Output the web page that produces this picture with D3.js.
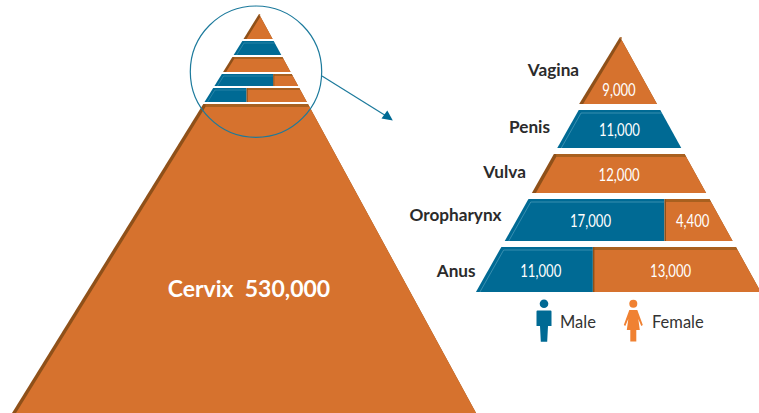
<!DOCTYPE html>
<html>
<head>
<meta charset="utf-8">
<script src="https://cdn.jsdelivr.net/npm/d3@7"></script>
<style>
  html, body { margin: 0; padding: 0; background: #fff; }
  svg { display: block; }
  text { font-family: Lato, "Open Sans", sans-serif; }
</style>
</head>
<body>
<div id="d3"></div>
<script>
// data
var sites = ["Vagina", "Penis", "Vulva", "Oropharynx", "Anus"];
var maleCases = [0, 11000, 0, 17000, 11000];
var femaleCases = [9000, 0, 12000, 4400, 13000];
var cervixLabel = "Cervix";
var cervixCases = 530000;
var legendLabels = ["Male", "Female"];

var colors = {
  male: "#006a94", maleLine: "#4f9dbb",
  female: "#d6722e", femaleTop: "#a9601f", femaleLeft: "#8f5019",
  ring: "#1c7a9c", text: "#2b2b2b", legendFemale: "#f08132"
};

var svg = d3.select("#d3").append("svg")
  .attr("width", 759)
  .attr("height", 413);

var fmt = d3.format(",");

// male share of cases -> share of the tier width
var splitShare = d3.scaleLinear().domain([0, 1]).range([0.015, 0.878]);

// tier boundaries (by tier index) for each of the two pyramids
var bigY = d3.scaleLinear().domain([0, 1, 2, 3, 4, 5]).range([37, 110, 154, 199, 247, 298]);
var smallY = d3.scaleLinear().domain([0, 1, 2, 3, 4, 5, 6]).range([14, 41, 57, 74, 88, 104, 425]);

function polygon(g, pts, fill) {
  return g.append("polygon")
    .attr("points", pts.map(function(p) { return p.join(","); }).join(" "))
    .attr("fill", fill);
}

// draw one segment of a tier; fromLeft/toRight say if it ends on a slanted edge or at the split
function drawSegment(g, t, sex, fromLeft, toRight, split) {
  var lx = function(y) { return t.apexX - t.slopeL * (y - t.apexY); };
  var rx = function(y) { return t.apexX + t.slopeR * (y - t.apexY); };
  var top = t.top, bottom = t.bottom, d = t.depth, inset = t.inset;
  var x0t = fromLeft ? lx(top) : split;
  var x0b = fromLeft ? lx(bottom) : split;
  var x1t = toRight ? rx(top) : split;
  var x1b = toRight ? rx(bottom) : split;
  var fy = top + d;
  var fx1t = toRight ? rx(fy) : split;
  var fx0t = fromLeft ? Math.min(lx(fy) + inset, fx1t) : split + inset * 0.4;
  var fx0b = fromLeft ? lx(bottom) + inset : split + inset * 0.4;

  if (sex === "male") {
    polygon(g, [[x0t, top], [x1t, top], [x1b, bottom], [x0b, bottom]], colors.male);
    g.append("polyline")
      .attr("points", [[fx0b, bottom], [fx0t, fy], [fx1t, fy]].map(function(p) { return p.join(","); }).join(" "))
      .attr("fill", "none")
      .attr("stroke", colors.maleLine)
      .attr("stroke-width", t.lineWidth);
  } else {
    polygon(g, [[x0t, top], [x1t, top], [x1b, bottom], [x0b, bottom]], colors.femaleLeft);
    if (d > 0) polygon(g, [[fx0t, top], [x1t, top], [fx1t, fy], [fx0t, fy]], colors.femaleTop);
    polygon(g, [[fx0t, fy], [fx1t, fy], [x1b, bottom], [fx0b, bottom]], colors.female);
  }
}

function drawTier(g, i, geo, y) {
  var t = {
    apexX: geo.apexX, apexY: geo.apexY, slopeR: geo.slopeR,
    slopeL: i === 0 ? geo.slopeL0 : geo.slopeL,
    depth: i === 0 ? 3 : geo.depth, inset: geo.inset, lineWidth: geo.lineWidth,
    top: y(i), bottom: y(i + 1) - geo.gap
  };
  var m = maleCases[i], f = femaleCases[i];
  var left = t.apexX - t.slopeL * (t.bottom - t.apexY);
  var right = t.apexX + t.slopeR * (t.bottom - t.apexY);
  var split = left + splitShare(m / (m + f)) * (right - left);
  t.split = split;
  if (m > 0 && f > 0) {
    drawSegment(g, t, "male", true, false, split);
    drawSegment(g, t, "female", false, true, split);
  } else {
    drawSegment(g, t, m > 0 ? "male" : "female", true, true, split);
  }
  return t;
}

// small pyramid with cervix underneath
var smallGeo = { apexX: 259, apexY: 14, slopeL: 0.619, slopeL0: 0.619, slopeR: 0.544, depth: 2, inset: 3, gap: 2, lineWidth: 0.5 };
var smallG = svg.append("g");
var cervix = {
  apexX: smallGeo.apexX, apexY: smallGeo.apexY, slopeL: smallGeo.slopeL, slopeR: smallGeo.slopeR,
  depth: 3, inset: 4, top: smallY(5), bottom: smallY(6)
};
drawSegment(smallG, cervix, "female", true, true, 0);
sites.forEach(function(s, i) { drawTier(smallG, i, smallGeo, smallY); });

svg.append("text")
  .attr("x", 249)
  .attr("y", 297)
  .attr("text-anchor", "middle")
  .attr("fill", "#fff")
  .attr("font-size", 23)
  .attr("font-weight", 700)
  .attr("xml:space", "preserve")
  .text(cervixLabel + "  " + fmt(cervixCases));

// ring and arrow
svg.append("circle")
  .attr("cx", 256)
  .attr("cy", 71.7)
  .attr("r", 65.7)
  .attr("fill", "none")
  .attr("stroke", colors.ring)
  .attr("stroke-width", 1.2);

svg.append("line")
  .attr("x1", 322).attr("y1", 76)
  .attr("x2", 387).attr("y2", 116.5)
  .attr("stroke", colors.ring)
  .attr("stroke-width", 1.2);

svg.append("polygon")
  .attr("points", "387.3,110.5 392.8,120.5 381.5,118.5")
  .attr("fill", colors.male);

// big pyramid
var bigGeo = { apexX: 620, apexY: 37, slopeL: 0.565, slopeL0: 0.61, slopeR: 0.552, depth: 3, inset: 4, gap: 6, lineWidth: 0.7 };
var bigG = svg.append("g");

var labelDx = [-20.5, -18, -17, -15, -13];
var labelDy = [5.5, 3.5, 4, 1, 7.5];

function valueWidth(s) { return s.replace(",", "").length * 7.6 + 3; }

function valueText(x, y, v) {
  var s = fmt(v);
  bigG.append("text")
    .attr("x", x)
    .attr("y", y)
    .attr("text-anchor", "middle")
    .attr("fill", "#fff")
    .attr("font-size", 18)
    .attr("textLength", valueWidth(s))
    .attr("lengthAdjust", "spacingAndGlyphs")
    .text(s);
}

sites.forEach(function(site, i) {
  var t = drawTier(bigG, i, bigGeo, bigY);
  var mid = (t.top + t.bottom) / 2;
  var lx = t.apexX - t.slopeL * (mid - t.apexY);
  var rx = t.apexX + t.slopeR * (mid - t.apexY);
  var m = maleCases[i], f = femaleCases[i];

  // site label
  bigG.append("text")
    .attr("x", lx + labelDx[i])
    .attr("y", mid + labelDy[i])
    .attr("text-anchor", "end")
    .attr("fill", colors.text)
    .attr("font-size", 17.2)
    .attr("font-weight", 700)
    .text(site);

  // values
  if (i === 0) {
    valueText(t.apexX - 1, t.bottom - 8, f);
  } else if (m > 0 && f > 0) {
    valueText((lx + t.split) / 2, mid + 7, m);
    valueText((t.split + rx) / 2, mid + 7, f);
  } else {
    valueText((lx + rx) / 2, mid + 7, m + f);
  }
});

// legend
var maleIcon = svg.append("g").attr("transform", "translate(544,0)");
maleIcon.append("circle").attr("cx", 0).attr("cy", 303.7).attr("r", 4.3).attr("fill", colors.male);
maleIcon.append("path")
  .attr("d", "M-6.5,310.5 H6.5 Q7.5,310.5 7.5,311.5 V326 H4 L3.2,341.8 H-3.2 L-4,326 H-7.5 V311.5 Q-7.5,310.5 -6.5,310.5 Z")
  .attr("fill", colors.male);

var femaleIcon = svg.append("g").attr("transform", "translate(633.3,0)");
femaleIcon.append("circle").attr("cx", 0).attr("cy", 303.7).attr("r", 4).attr("fill", colors.legendFemale);
femaleIcon.append("path")
  .attr("d", "M-4,310 H4 L9.5,325 L8,326 L5,319 L6.5,330 H3 V341.5 H-3 V330 H-6.5 L-5,319 L-8,326 L-9.5,325 Z")
  .attr("fill", colors.legendFemale);

svg.selectAll(".legend")
  .data(legendLabels)
  .enter().append("text")
  .attr("class", "legend")
  .attr("x", function(d, i) { return i === 0 ? 560 : 652; })
  .attr("y", 328)
  .attr("fill", "#333")
  .attr("font-size", 16.5)
  .text(function(d) { return d; });
</script>
</body>
</html>
